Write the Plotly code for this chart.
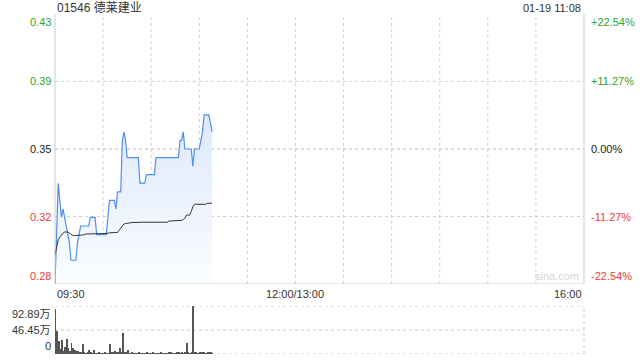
import plotly.graph_objects as go

title_text = "01546 德莱建业"
stamp_text = "01-19 11:08"
prev_close = 0.35
pct_ticks = [22.54, 11.27, 0.0, -11.27, -22.54]
price_labels = ["0.43", "0.39", "0.35", "0.32", "0.28"]
pct_labels = ["+22.54%", "+11.27%", "0.00%", "-11.27%", "-22.54%"]
label_colors = ["#2ea52e", "#2ea52e", "#222222", "#f03a3a", "#f03a3a"]
time_labels = ["09:30", "12:00/13:00", "16:00"]
time_label_pos = [0, 150, 330]
grid_minutes = [30, 60, 90, 120, 150, 180, 210, 240, 270, 300]
session_len = 330
vol_ticks = [92.89, 46.45, 0]
vol_labels = ["92.89万", "46.45万", "0"]

minutes = list(range(99))
price = [0.271, 0.30, 0.33, 0.32, 0.31, 0.315, 0.31, 0.305, 0.30, 0.295,
         0.285, 0.285, 0.285, 0.285, 0.295, 0.30, 0.305, 0.305, 0.305, 0.305,
         0.305, 0.305, 0.31, 0.31, 0.31, 0.31, 0.30, 0.30, 0.30, 0.30,
         0.30, 0.30, 0.30, 0.31, 0.32, 0.32, 0.32, 0.32, 0.315, 0.325,
         0.325, 0.325, 0.355, 0.36, 0.355, 0.345, 0.345, 0.345, 0.345, 0.345,
         0.345, 0.345, 0.345, 0.33, 0.33, 0.33, 0.33, 0.335, 0.335, 0.335,
         0.335, 0.335, 0.335, 0.345, 0.345, 0.345, 0.345, 0.345, 0.345, 0.345,
         0.345, 0.345, 0.345, 0.345, 0.345, 0.345, 0.345, 0.345, 0.355, 0.355,
         0.36, 0.35, 0.35, 0.35, 0.35, 0.35, 0.34, 0.35, 0.35, 0.35,
         0.35, 0.355, 0.36, 0.37, 0.37, 0.37, 0.37, 0.365, 0.36]
avg_price = [0.288, 0.293, 0.297, 0.2985, 0.2998, 0.3008, 0.3015, 0.3017, 0.3015, 0.3008,
             0.3000, 0.2996, 0.2994, 0.2994, 0.2994, 0.2994, 0.2994, 0.2994, 0.2998, 0.3003,
             0.3003, 0.3003, 0.3003, 0.3003, 0.3003, 0.3003, 0.3003, 0.3003, 0.3003, 0.3003,
             0.3003, 0.3003, 0.3005, 0.3007, 0.3010, 0.3012, 0.3012, 0.3012, 0.3012, 0.3012,
             0.3025, 0.3040, 0.3055, 0.3062, 0.3064, 0.3067, 0.3068, 0.3069, 0.3070, 0.3071,
             0.3072, 0.3072, 0.3072, 0.3072, 0.3072, 0.3072, 0.3072, 0.3072, 0.3072, 0.3072,
             0.3072, 0.3072, 0.3072, 0.3072, 0.3072, 0.3072, 0.3072, 0.3072, 0.3072, 0.3072,
             0.3072, 0.3079, 0.3079, 0.3079, 0.3079, 0.3079, 0.3079, 0.3079, 0.3079, 0.3083,
             0.3088, 0.3095, 0.3114, 0.3114, 0.3114, 0.3135, 0.3163, 0.3177, 0.3177, 0.3177,
             0.3177, 0.3177, 0.3177, 0.3177, 0.3177, 0.3183, 0.3183, 0.3183, 0.3183]
volume = [88.0, 44.0, 26.0, 10.0, 28.0, 6.0, 13.0, 30.0, 12.0, 5.0,
          21.0, 12.0, 8.0, 5.0, 6.0, 3.0, 4.0, 19.0, 2.0, 1.0,
          2.0, 7.0, 2.0, 1.0, 8.0, 1.5, 1.0, 2.0, 1.0, 1.5,
          1.0, 2.0, 1.0, 1.5, 19.0, 3.0, 2.0, 6.0, 2.0, 3.0,
          11.0, 2.0, 41.0, 3.0, 2.0, 7.0, 1.5, 1.0, 2.0, 1.0,
          1.5, 1.0, 2.0, 1.0, 1.5, 1.0, 1.0, 3.0, 1.0, 1.5,
          1.0, 2.0, 1.0, 1.5, 1.0, 1.0, 2.0, 1.0, 1.5, 1.0,
          1.0, 2.0, 3.0, 1.0, 1.0, 1.5, 4.0, 2.0, 1.0, 3.0,
          1.0, 2.0, 21.0, 2.0, 1.0, 3.0, 92.89, 3.0, 2.0, 1.5,
          2.0, 3.0, 4.0, 2.0, 1.5, 3.0, 2.0, 2.5, 1.5]

W, H = 640, 360
x0_px, x1_px = 55, 584
p_top, p_bot = 14, 284
v_top, v_bot = 306, 354

y_lo = prev_close * (1 - pct_ticks[0] / 100)
y_hi = prev_close * (1 + pct_ticks[0] / 100)
tick_prices = [prev_close * (1 + p / 100) for p in pct_ticks]

FONT = "Liberation Sans, Arial, Noto Sans CJK SC, sans-serif"

fig = go.Figure()
# baseline for the area fill (axis minimum)
fig.add_trace(go.Scatter(x=minutes, y=[y_lo] * len(minutes), mode="lines",
                         line=dict(width=0), hoverinfo="skip", showlegend=False,
                         xaxis="x", yaxis="y"))
fig.add_trace(go.Scatter(x=minutes, y=price, mode="lines",
                         line=dict(color="#4f8ef2", width=1.2),
                         fill="tonexty",
                         fillgradient=dict(type="vertical",
                                           colorscale=[[0, "rgba(250,252,255,1)"],
                                                       [1, "rgba(222,233,252,1)"]]),
                         showlegend=False, xaxis="x", yaxis="y"))
fig.add_trace(go.Scatter(x=minutes, y=avg_price, mode="lines",
                         line=dict(color="#333333", width=1),
                         showlegend=False, xaxis="x", yaxis="y"))
fig.add_trace(go.Bar(x=minutes, y=volume, width=0.62,
                     marker=dict(color="#555555", line=dict(width=0)),
                     showlegend=False, xaxis="x2", yaxis="y2"))

xd = [x0_px / W, x1_px / W]
fig.update_layout(
    width=W, height=H, margin=dict(l=0, r=0, t=0, b=0),
    paper_bgcolor="white", plot_bgcolor="rgba(0,0,0,0)",
    font=dict(family=FONT, size=11, color="#333333"),
    bargap=0,
    xaxis=dict(domain=xd, range=[0, session_len], anchor="y", showgrid=False,
               zeroline=False, showticklabels=False, showline=False, fixedrange=True),
    yaxis=dict(domain=[1 - p_bot / H, 1 - p_top / H], range=[y_lo, y_hi], showgrid=False,
               zeroline=False, showticklabels=False, showline=False),
    xaxis2=dict(domain=xd, range=[-0.3, session_len], anchor="y2", showgrid=False,
                zeroline=False, showticklabels=False, showline=False),
    yaxis2=dict(domain=[1 - v_bot / H, 1 - v_top / H], range=[0, vol_ticks[0]], showgrid=False,
                zeroline=False, showticklabels=False, showline=False),
)

shapes = []
# price chart vertical gridlines
for m in grid_minutes:
    shapes.append(dict(type="line", xref="x", yref="y", x0=m, x1=m, y0=y_lo, y1=y_hi,
                       line=dict(color="#d0d0d0", width=1, dash="dot"), layer="below"))
# price chart horizontal gridlines
for i, tp in enumerate(tick_prices[1:-1]):
    col = "#b8b8b8" if pct_ticks[i + 1] == 0 else "#d0d0d0"
    shapes.append(dict(type="line", xref="paper", yref="y", x0=xd[0], x1=xd[1], y0=tp, y1=tp,
                       line=dict(color=col, width=1, dash="dot"), layer="below"))
# price frame (left, right, bottom)
for (xa, xb, ya, yb) in [(xd[0], xd[0], y_lo, y_hi), (xd[1], xd[1], y_lo, y_hi),
                         (xd[0], xd[1], y_lo, y_lo)]:
    shapes.append(dict(type="line", xref="paper", yref="y", x0=xa, x1=xb, y0=ya, y1=yb,
                       line=dict(color="#cccccc", width=1), layer="above"))
# volume gridlines and frame
for vt in vol_ticks:
    shapes.append(dict(type="line", xref="paper", yref="y2", x0=xd[0], x1=xd[1], y0=vt, y1=vt,
                       line=dict(color="#c8c8c8", width=1, dash="dot"), layer="below"))
shapes.append(dict(type="line", xref="paper", yref="y2", x0=xd[1], x1=xd[1], y0=0, y1=vol_ticks[0],
                   line=dict(color="#c8c8c8", width=1, dash="dot"), layer="below"))
fig.update_layout(shapes=shapes)

ann = []
ann.append(dict(text=title_text, xref="paper", yref="paper", x=x0_px / W, y=1 - 7.5 / H,
                xanchor="left", yanchor="middle", showarrow=False,
                font=dict(size=12, color="#333333")))
ann.append(dict(text=stamp_text, xref="paper", yref="paper", x=(x1_px - 1) / W, y=1 - 7.5 / H,
                xanchor="right", yanchor="middle", showarrow=False,
                font=dict(size=11, color="#333333")))
anchors = ["top", "middle", "middle", "middle", "bottom"]
for tp, pl, ql, c, a in zip(tick_prices, price_labels, pct_labels, label_colors, anchors):
    ann.append(dict(text=pl, xref="paper", yref="y", x=(x0_px - 2) / W, y=tp,
                    xanchor="right", yanchor=a, showarrow=False, font=dict(size=11, color=c)))
    ann.append(dict(text=ql, xref="paper", yref="y", x=(x1_px + 5) / W, y=tp,
                    xanchor="left", yanchor=a, showarrow=False, font=dict(size=11, color=c)))
for vt, vl, a in zip(vol_ticks, vol_labels, ["top", "middle", "bottom"]):
    ann.append(dict(text=vl, xref="paper", yref="y2", x=(x0_px - 2) / W, y=vt,
                    xanchor="right", yanchor=a, showarrow=False, font=dict(size=11, color="#333333")))
for tl, tpos, xa in zip(time_labels, time_label_pos, ["left", "center", "right"]):
    ann.append(dict(text=tl, xref="x", yref="paper", x=tpos, y=1 - 294 / H,
                    xanchor=xa, yanchor="middle", showarrow=False,
                    font=dict(size=11, color="#333333")))
ann.append(dict(text="sina.com", xref="paper", yref="y", x=(x1_px - 3) / W, y=y_lo,
                xanchor="right", yanchor="bottom", showarrow=False,
                font=dict(size=11, color="#d6d6d6")))
fig.update_layout(annotations=ann)

fig.write_html("out.html")
